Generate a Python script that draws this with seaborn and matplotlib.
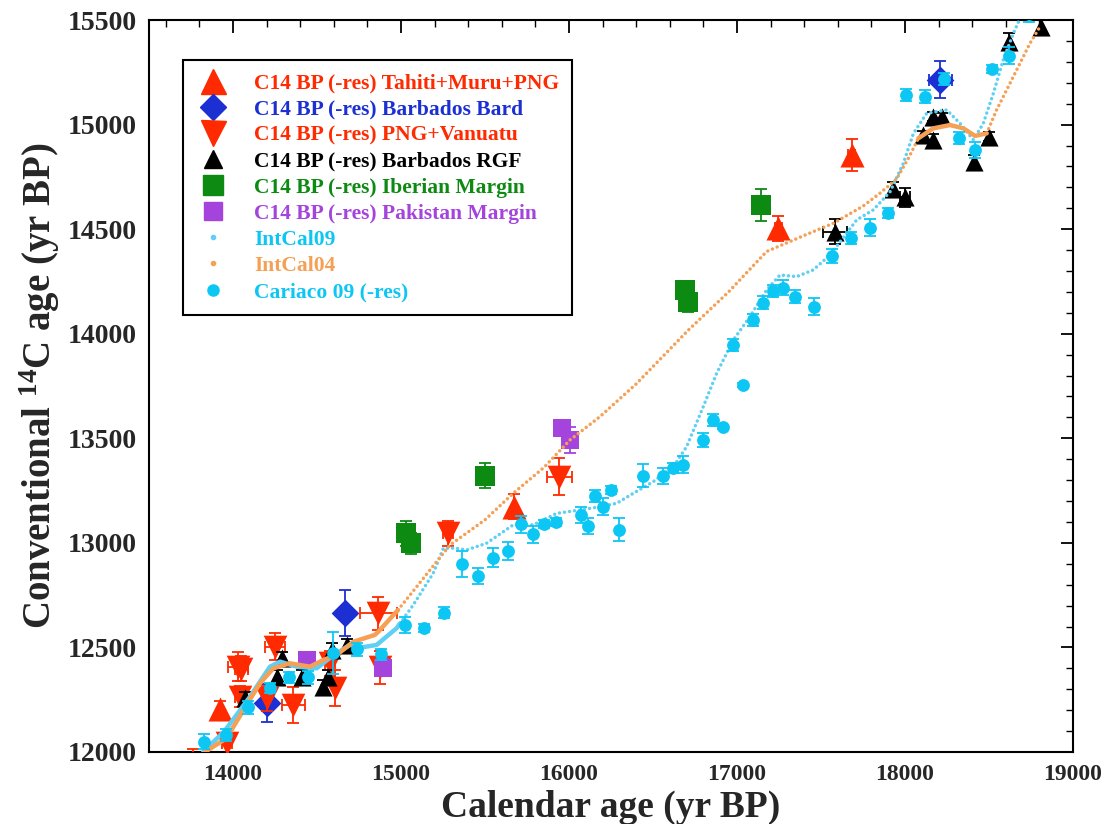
import numpy as np
import matplotlib
matplotlib.use("Agg")
import matplotlib.pyplot as plt
from matplotlib.lines import Line2D
from matplotlib.ticker import MultipleLocator
import seaborn as sns

nan = np.nan

# ---------------- data ----------------
tahiti_x = [13925, 15675, 17245, 17683]
tahiti_y = [12205, 13173, 14505, 14855]
tahiti_ye = [40, 60, 60, 75]
tahiti_xe = [nan, nan, 20, 20]

bard_x = [14205, 14665, 18210]
bard_y = [12235, 12663, 15215]
bard_ye = [90, 110, 90]
bard_xe = [nan, nan, 70]

png_x = [13760, 13962, 14030, 14050, 14040, 14200, 14250, 14360, 14577, 14607, 14865, 14875, 15282, 15942]
png_y = [11915, 12041, 12408, 12398, 12264, 12257, 12504, 12225, 12425, 12305, 12663, 12405, 13045, 13317]
png_ye = [100, 50, 70, 60, 50, 60, 65, 85, 60, 85, 80, 80, 60, 90]
png_xe = [35, 30, 60, 40, 30, nan, 60, 70, 30, nan, 110, 30, 30, 75]

rgf_x = [14071, 14260, 14290, 14408, 14538, 14567, 14590, 14677, 17583, 17931, 18000,
         18109, 18168, 18168, 18218, 18413, 18497, 18616, 18810]
rgf_y = [12257, 12360, 12448, 12360, 12312, 12360, 12490, 12512, 14488, 14694, 14652,
         14951, 14927, 15038, 15035, 14823, 14943, 15397, 15469]
rgf_ye = [30, 30, 30, 30, 30, 30, 30, 30, 60, 30, 45, 20, 30, 20, 20, 30, 20, 40, 30]
rgf_xe = [nan, nan, nan, nan, nan, nan, nan, nan, 70, nan, 30, nan, nan, nan, nan, nan, nan, nan, nan]

iber_x = [15030, 15058, 15500, 16690, 16710, 17143]
iber_y = [13045, 12998, 13320, 14209, 14153, 14616]
iber_ye = [60, 50, 60, 45, 50, 75]

pak_x = [14440, 14891, 15956, 16006]
pak_y = [12440, 12403, 13548, 13492]
pak_ye = [30, 40, 30, 60]

car_x = [13827, 13958, 14087, 14220, 14335, 14448, 14593, 14736, 14881, 15024, 15139, 15258,
         15365, 15460, 15546, 15635, 15714, 15784, 15853, 15923, 16070, 16111, 16155, 16200,
         16250, 16299, 16438, 16557, 16617, 16677, 16799, 16859, 16918, 16974, 17033, 17093,
         17153, 17212, 17271, 17345, 17458, 17567, 17679, 17792, 17901, 18006, 18119, 18232,
         18321, 18417, 18520, 18616, 18735]
car_y = [12049, 12081, 12214, 12305, 12357, 12357, 12472, 12491, 12467, 12607, 12592, 12666,
         12899, 12842, 12929, 12961, 13089, 13041, 13090, 13101, 13133, 13081, 13224, 13173,
         13253, 13062, 13321, 13320, 13357, 13373, 13492, 13588, 13553, 13946, 13755, 14066,
         14149, 14205, 14221, 14177, 14130, 14372, 14457, 14507, 14576, 15142, 15134, 15217,
         14935, 14879, 15265, 15329, 15530]
car_ye = [35, 30, 30, 25, 25, 30, 100, 30, 25, 40, 20, 25,
          60, 40, 45, 45, 40, 40, 20, 20, 40, 40, 30, 40,
          20, 55, 55, 40, 25, 40, 35, 30, 10, 30, 10, 30,
          30, 30, 35, 30, 40, 35, 30, 40, 25, 30, 30, 30,
          30, 40, 20, 40, 40]

# IntCal04 (orange): high-resolution part and 20-yr part
ic04_solid_x = [13833, 13962, 14081, 14161, 14240, 14339, 14458, 14538, 14617, 14716, 14845, 14865, 14982]
ic04_solid_y = [12000, 12066, 12225, 12329, 12400, 12424, 12408, 12440, 12464, 12527, 12560, 12575, 12679]
ic04_dot_x = [14982, 15100, 15212, 15292, 15500, 15668, 15850, 16006, 16185, 16400, 16711, 16950,
              17176, 17400, 17573, 17750, 17851, 17950, 18020, 18080]
ic04_dot_y = [12679, 12797, 12910, 12990, 13110, 13237, 13360, 13492, 13604, 13760, 14018, 14200,
              14393, 14470, 14528, 14610, 14672, 14740, 14839, 14935]
ic04_solid2_x = [18080, 18168, 18268, 18347, 18417, 18486]
ic04_solid2_y = [14935, 14982, 14998, 14982, 14946, 14958]
ic04_dot2_x = [18486, 18545, 18645, 18744, 18804]
ic04_dot2_y = [14958, 15070, 15230, 15389, 15469]

# IntCal09 (light blue)
ic09_solid_x = [13823, 13950, 14101, 14220, 14280, 14379, 14498, 14587, 14696, 14766, 14855, 14974, 14994]
ic09_solid_y = [12001, 12100, 12264, 12408, 12432, 12408, 12400, 12456, 12512, 12500, 12512, 12592, 12615]
ic09_dot_x = [14994, 15073, 15192, 15252, 15320, 15390, 15509, 15668, 15788, 15926, 16065, 16185,
              16284, 16383, 16502, 16621, 16700, 16799, 16879, 16978, 17077, 17176, 17256, 17355,
              17454, 17554, 17712, 17811, 17911, 17990, 18050, 18129, 18248, 18327, 18407, 18466,
              18526, 18585, 18645, 18685]
ic09_dot_y = [12615, 12703, 12855, 12974, 12975, 12966, 12998, 13086, 13086, 13141, 13157, 13173,
              13189, 13237, 13293, 13364, 13460, 13651, 13811, 13970, 14082, 14209, 14281, 14273,
              14305, 14377, 14544, 14592, 14679, 14815, 14958, 15054, 15070, 15006, 14927, 15006,
              15150, 15310, 15436, 15509]

labels = ["C14 BP (-res) Tahiti+Muru+PNG", "C14 BP (-res) Barbados Bard",
          "C14 BP (-res) PNG+Vanuatu", "C14 BP (-res) Barbados RGF",
          "C14 BP (-res) Iberian Margin", "C14 BP (-res) Pakistan Margin",
          "IntCal09", "IntCal04", "Cariaco 09 (-res)"]
x_ticks = [14000, 15000, 16000, 17000, 18000, 19000]
y_ticks = [12000, 12500, 13000, 13500, 14000, 14500, 15000, 15500]

# ---------------- style ----------------
RED = "#ff2a00"
BLUE = "#1b2fd2"
BLACK = "#000000"
GREEN = "#0c8a12"
PURPLE = "#a444dc"
CYAN = "#0cc6f4"
IC09 = "#5fcff4"
IC04 = "#f5a055"

sns.set_theme(style="white")
plt.rcParams["font.family"] = ["Liberation Serif", "DejaVu Serif"]
plt.rcParams["font.weight"] = "bold"
plt.rcParams["mathtext.fontset"] = "custom"
plt.rcParams["mathtext.rm"] = "Liberation Serif:bold"
plt.rcParams["mathtext.it"] = "Liberation Serif:bold"
plt.rcParams["mathtext.bf"] = "Liberation Serif:bold"
plt.rcParams["mathtext.default"] = "rm"

fig = plt.figure(figsize=(11.16, 8.24), dpi=100)
ax = fig.add_axes([0.1335, 0.0874, 0.828, 0.8883])


def series(x, y, ye, xe, color, marker, size, z):
    ax.errorbar(x, y, yerr=ye, xerr=xe, fmt="none", ecolor=color, elinewidth=1.3,
                capsize=4, capthick=1.3, zorder=z)
    sns.scatterplot(x=x, y=y, marker=marker, s=size, color=color, edgecolor=color,
                    linewidth=0, ax=ax, zorder=z + 0.1, legend=False)


series(tahiti_x, tahiti_y, tahiti_ye, tahiti_xe, RED, "^", 300, 3)
series(bard_x, bard_y, bard_ye, bard_xe, BLUE, "D", 200, 3.2)
series(png_x, png_y, png_ye, png_xe, RED, "v", 290, 3.4)
series(rgf_x, rgf_y, rgf_ye, rgf_xe, BLACK, "^", 170, 3.6)
series(iber_x, iber_y, iber_ye, None, GREEN, "s", 200, 3.8)
series(pak_x, pak_y, pak_ye, None, PURPLE, "s", 160, 4.0)

dotted = (0, (0.01, 1.45))
sns.lineplot(x=ic09_solid_x, y=ic09_solid_y, sort=False, estimator=None, ax=ax,
             color=IC09, lw=3.2, zorder=4.5)
sns.lineplot(x=ic09_dot_x, y=ic09_dot_y, sort=False, estimator=None, ax=ax,
             color=IC09, lw=2.5, linestyle=dotted, dash_capstyle="round", zorder=4.5)
sns.lineplot(x=ic04_solid_x, y=ic04_solid_y, sort=False, estimator=None, ax=ax,
             color=IC04, lw=3.2, zorder=4.6)
sns.lineplot(x=ic04_solid2_x, y=ic04_solid2_y, sort=False, estimator=None, ax=ax,
             color=IC04, lw=3.2, zorder=4.6)
for xs, ys in [(ic04_dot_x, ic04_dot_y), (ic04_dot2_x, ic04_dot2_y)]:
    sns.lineplot(x=xs, y=ys, sort=False, estimator=None, ax=ax,
                 color=IC04, lw=2.5, linestyle=dotted, dash_capstyle="round", zorder=4.6)

series(car_x, car_y, car_ye, None, CYAN, "o", 85, 5)

# ---------------- axes ----------------
ax.set_xlim(13500, 19000)
ax.set_ylim(12000, 15500)
ax.set_xticks(x_ticks)
ax.set_yticks(y_ticks)
ax.set_xticklabels([str(t) for t in x_ticks])
ax.set_yticklabels([str(t) for t in y_ticks])
ax.xaxis.set_minor_locator(MultipleLocator(200))
ax.yaxis.set_minor_locator(MultipleLocator(100))
ax.tick_params(which="both", direction="in", top=True, right=True, color="black")
ax.tick_params(which="major", length=9, width=1.3)
ax.tick_params(which="minor", length=5, width=1.0)
ax.tick_params(axis="x", which="major", labelsize=17, pad=9)
ax.tick_params(axis="y", which="major", labelsize=20, pad=9)
for lab in ax.get_xticklabels() + ax.get_yticklabels():
    lab.set_fontweight("bold")
for sp in ax.spines.values():
    sp.set_color("black")
    sp.set_linewidth(1.5)
ax.grid(False)

ax.set_xlabel("Calendar age (yr BP)", fontsize=27, fontweight="bold")
ax.set_ylabel("Conventional $^{14}$C age (yr BP)", fontsize=28, fontweight="bold")
ax.xaxis.set_label_coords(0.5, -0.052)
ax.xaxis.label.set_va("top")
ax.yaxis.set_label_coords(-0.094, 0.5)

# ---------------- legend ----------------
handles = [
    Line2D([], [], marker="^", color=RED, ls="None", markersize=18),
    Line2D([], [], marker="D", color=BLUE, ls="None", markersize=13),
    Line2D([], [], marker="v", color=RED, ls="None", markersize=18),
    Line2D([], [], marker="^", color=BLACK, ls="None", markersize=13),
    Line2D([], [], marker="s", color=GREEN, ls="None", markersize=14),
    Line2D([], [], marker="s", color=PURPLE, ls="None", markersize=12.5),
    Line2D([], [], marker="o", color=IC09, ls="None", markersize=3),
    Line2D([], [], marker="o", color=IC04, ls="None", markersize=3),
    Line2D([], [], marker="o", color=CYAN, ls="None", markersize=8),
]
text_colors = [RED, BLUE, RED, BLACK, GREEN, PURPLE, CYAN, IC04, CYAN]
leg = ax.legend(handles, labels, loc="upper left", bbox_to_anchor=(0.037, 0.945),
                borderaxespad=0, frameon=True, fancybox=False, edgecolor="black",
                prop={"family": "Liberation Serif", "weight": "bold", "size": 15.5},
                labelspacing=0.28, handlelength=1.6, handletextpad=1.1,
                borderpad=0.6, framealpha=1)
leg.get_frame().set_linewidth(1.5)
leg.set_zorder(10)
for t, c in zip(leg.get_texts(), text_colors):
    t.set_color(c)

fig.savefig("out.png", dpi=100)
